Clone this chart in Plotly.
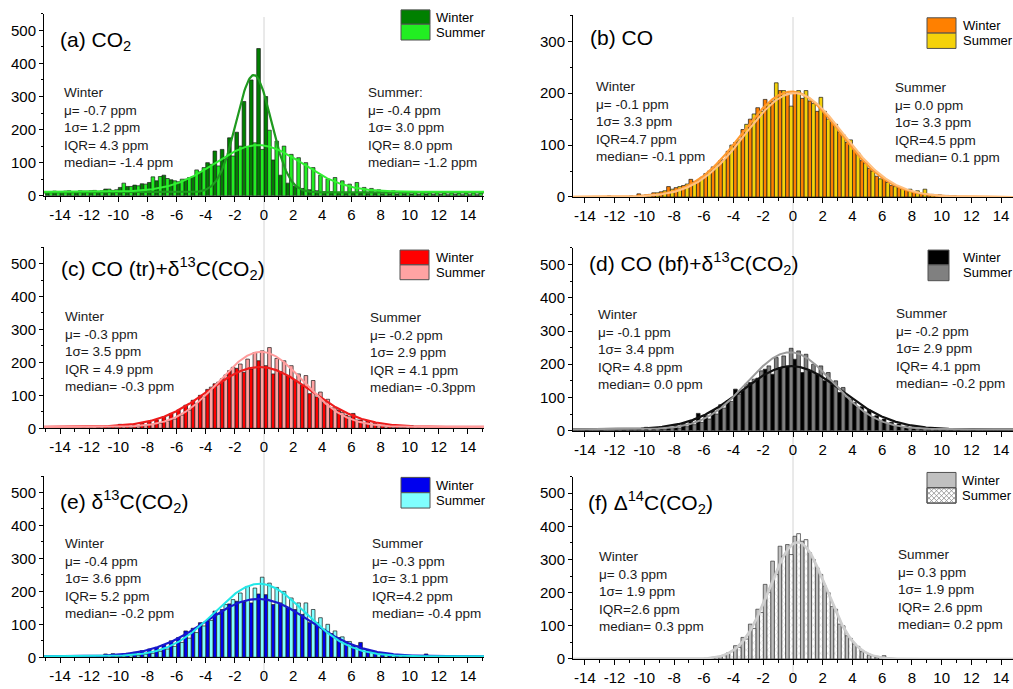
import numpy as np
import plotly.graph_objects as go

W, H = 1013, 689


def px(x):
    return x / W


def py(y):
    return 1 - y / H


# ---------------- data ----------------
bin_centers = [-14.75, -14.25, -13.75, -13.25, -12.75, -12.25, -11.75, -11.25, -10.75, -10.25,
               -9.75, -9.25, -8.75, -8.25, -7.75, -7.25, -6.75, -6.25, -5.75, -5.25,
               -4.75, -4.25, -3.75, -3.25, -2.75, -2.25, -1.75, -1.25, -0.75, -0.25,
               0.25, 0.75, 1.25, 1.75, 2.25, 2.75, 3.25, 3.75, 4.25, 4.75,
               5.25, 5.75, 6.25, 6.75, 7.25, 7.75, 8.25, 8.75, 9.25, 9.75,
               10.25, 10.75, 11.25, 11.75, 12.25, 12.75, 13.25, 13.75, 14.25, 14.75]

x_tick_vals = [-14, -12, -10, -8, -6, -4, -2, 0, 2, 4, 6, 8, 10, 12, 14]
x_tick_text = ["-14", "-12", "-10", "-8", "-6", "-4", "-2", "0", "2", "4", "6", "8", "10", "12", "14"]

co2_winter = [12, 14, 10, 15, 12, 14, 15, 13, 20, 16,
              25, 28, 32, 36, 40, 45, 62, 48, 42, 50,
              58, 72, 100, 135, 140, 175, 192, 285, 350, 445,
              300, 108, 62, 38, 28, 22, 18, 15, 12, 12,
              10, 10, 8, 8, 7, 8, 6, 6, 5, 6,
              5, 4, 5, 4, 4, 3, 4, 3, 3, 3]
co2_summer = [10, 12, 14, 12, 15, 14, 16, 15, 20, 18,
              38, 28, 30, 35, 57, 58, 52, 45, 50, 55,
              78, 85, 95, 90, 110, 120, 150, 148, 160, 140,
              198, 165, 150, 125, 115, 100, 85, 62, 50, 55,
              45, 35, 40, 25, 22, 18, 15, 15, 12, 10,
              12, 10, 9, 10, 8, 9, 8, 8, 9, 8]

co_winter = [0, 0, 0, 1, 0, 2, 1, 1, 2, 6,
             4, 8, 10, 20, 18, 22, 34, 32, 45, 58,
             70, 88, 105, 130, 150, 172, 188, 185, 205, 198,
             200, 190, 185, 165, 165, 145, 125, 105, 90, 70,
             55, 40, 35, 22, 18, 14, 10, 6, 4, 3,
             3, 2, 1, 1, 0, 0, 1, 0, 0, 0]
co_summer = [0, 0, 0, 0, 0, 1, 0, 1, 1, 3,
             5, 8, 12, 15, 20, 25, 30, 38, 50, 62,
             72, 100, 110, 140, 160, 165, 180, 220, 205, 175,
             205, 205, 180, 192, 150, 140, 120, 110, 85, 65,
             50, 35, 28, 20, 16, 15, 12, 15, 5, 4,
             3, 2, 1, 0, 0, 0, 0, 0, 0, 0]

tr_winter = [0, 0, 0, 0, 0, 1, 1, 2, 6, 8,
             12, 7, 10, 16, 20, 26, 35, 45, 55, 70,
             85, 100, 118, 135, 150, 175, 182, 170, 180, 205,
             190, 165, 172, 160, 145, 130, 105, 95, 80, 62,
             55, 40, 45, 25, 22, 15, 10, 8, 5, 3,
             8, 2, 1, 0, 1, 0, 0, 0, 0, 0]
tr_summer = [0, 0, 0, 0, 0, 0, 0, 1, 2, 2,
             4, 3, 5, 8, 12, 15, 22, 28, 40, 55,
             75, 95, 125, 140, 162, 185, 195, 210, 230, 235,
             245, 212, 205, 190, 165, 160, 145, 110, 88, 62,
             48, 35, 25, 18, 12, 8, 5, 3, 2, 1,
             1, 0, 0, 0, 0, 0, 0, 0, 0, 0]

bf_winter = [0, 0, 1, 0, 1, 0, 1, 2, 3, 4,
             10, 9, 12, 10, 15, 22, 28, 52, 45, 60,
             78, 90, 125, 122, 145, 158, 185, 170, 190, 195,
             215, 175, 180, 170, 150, 140, 115, 100, 85, 72,
             62, 45, 35, 25, 20, 14, 12, 6, 4, 3,
             2, 1, 1, 0, 4, 0, 0, 0, 0, 0]
bf_summer = [0, 0, 0, 0, 0, 0, 0, 0, 1, 1,
             2, 3, 4, 6, 8, 12, 18, 25, 35, 50,
             68, 88, 110, 140, 155, 180, 195, 220, 225, 248,
             240, 230, 200, 195, 175, 150, 130, 95, 70, 55,
             42, 30, 22, 15, 10, 7, 5, 3, 2, 1,
             1, 0, 0, 0, 0, 0, 0, 0, 0, 0]

d13_winter = [0, 0, 0, 1, 2, 2, 3, 4, 10, 11,
              8, 12, 15, 20, 25, 30, 38, 50, 60, 80,
              88, 105, 110, 140, 145, 162, 170, 168, 165, 192,
              190, 160, 165, 150, 145, 130, 105, 105, 85, 72,
              60, 48, 35, 45, 22, 16, 12, 9, 6, 4,
              3, 2, 10, 1, 1, 0, 0, 0, 0, 0]
d13_summer = [0, 0, 0, 0, 0, 0, 0, 1, 1, 2,
              3, 5, 6, 9, 12, 18, 25, 33, 45, 58,
              75, 95, 112, 130, 160, 175, 195, 215, 210, 243,
              225, 212, 200, 180, 165, 165, 145, 120, 100, 80,
              62, 48, 35, 25, 18, 12, 8, 5, 4, 2,
              1, 1, 0, 0, 0, 0, 0, 0, 0, 0]

c14_winter = [0, 0, 0, 0, 0, 0, 0, 0, 0, 0,
              0, 0, 0, 0, 0, 0, 0, 1, 2, 4,
              8, 18, 40, 65, 105, 150, 225, 295, 340, 345,
              370, 355, 320, 275, 220, 158, 105, 70, 45, 22,
              12, 5, 10, 1, 0, 0, 0, 0, 0, 0,
              0, 0, 0, 0, 0, 0, 0, 0, 0, 0]
c14_summer = [0, 0, 0, 0, 0, 0, 0, 0, 0, 0,
              0, 0, 0, 0, 0, 0, 0, 1, 2, 5,
              10, 22, 35, 60, 92, 140, 200, 255, 310, 315,
              378, 360, 300, 255, 200, 150, 100, 62, 38, 20,
              10, 5, 3, 1, 0, 0, 0, 0, 0, 0,
              0, 0, 0, 0, 0, 0, 0, 0, 0, 0]

# Gaussian fit parameters: [amplitude, centre, sigma, baseline]
fit_co2_winter = [355, -0.7, 1.2, 10]
fit_co2_summer = [141, -0.4, 3.0, 12]
fit_co_winter = [203, -0.1, 3.3, 0]
fit_co_summer = [200, 0.1, 3.3, 0]
fit_tr_winter = [182, -0.3, 3.5, 4]
fit_tr_summer = [228, -0.2, 2.9, 4]
fit_bf_winter = [190, -0.1, 3.4, 4]
fit_bf_summer = [232, -0.2, 2.9, 4]
fit_d13_winter = [174, -0.4, 3.6, 3]
fit_d13_summer = [220, -0.3, 3.1, 3]
fit_c14_winter = [352, 0.3, 1.9, 0]
fit_c14_summer = [352, 0.35, 1.9, 0]

stats_co2 = (["Winter", "μ= -0.7 ppm", "1σ= 1.2 ppm", "IQR= 4.3 ppm", "median= -1.4 ppm"],
             ["Summer:", "μ= -0.4 ppm", "1σ= 3.0 ppm", "IQR= 8.0 ppm", "median= -1.2 ppm"])
stats_co = (["Winter", "μ= -0.1 ppm", "1σ= 3.3 ppm", "IQR=4.7 ppm", "median= -0.1 ppm"],
            ["Summer", "μ= 0.0 ppm", "1σ= 3.3 ppm", "IQR=4.5 ppm", "median= 0.1 ppm"])
stats_tr = (["Winter", "μ= -0.3 ppm", "1σ= 3.5 ppm", "IQR = 4.9 ppm", "median= -0.3 ppm"],
            ["Summer", "μ= -0.2 ppm", "1σ= 2.9 ppm", "IQR = 4.1 ppm", "median= -0.3ppm"])
stats_bf = (["Winter", "μ= -0.1 ppm", "1σ= 3.4 ppm", "IQR= 4.8 ppm", "median= 0.0 ppm"],
            ["Summer", "μ= -0.2 ppm", "1σ= 2.9 ppm", "IQR= 4.1 ppm", "median= -0.2 ppm"])
stats_d13 = (["Winter", "μ= -0.4 ppm", "1σ= 3.6 ppm", "IQR= 5.2 ppm", "median= -0.2 ppm"],
             ["Summer", "μ= -0.3 ppm", "1σ= 3.1 ppm", "IQR=4.2 ppm", "median= -0.4 ppm"])
stats_c14 = (["Winter", "μ= 0.3 ppm", "1σ= 1.9 ppm", "IQR=2.6 ppm", "median= 0.3 ppm"],
             ["Summer", "μ= 0.3 ppm", "1σ= 1.9 ppm", "IQR= 2.6 ppm", "median= 0.2 ppm"])

titles = ["(a) CO<sub>2</sub>",
          "(b) CO",
          "(c) CO (tr)+δ<sup>13</sup>C(CO<sub>2</sub>)",
          "(d) CO (bf)+δ<sup>13</sup>C(CO<sub>2</sub>)",
          "(e) δ<sup>13</sup>C(CO<sub>2</sub>)",
          "(f) Δ<sup>14</sup>C(CO<sub>2</sub>)"]

# ---------------- styling / layout (pixel positions) ----------------
FONT = "Liberation Sans, Arial, sans-serif"
LEFT = (44, 484, [-15.1, 15.1])
RIGHT = (573, 1013, [-14.8, 14.8])

panels = [
    dict(w=co2_winter, s=co2_summer, fw=fit_co2_winter, fs=fit_co2_summer, stats=stats_co2,
         col=LEFT, ytop=14, ybot=198, yr=[0, 550],
         wc="#008000", sc="#22ee22", wl="#1f9a1f", sl="#33ee33", olc="#1a1a1a",
         title=(58, 41), wtxt=(62, 84), stxt=(366, 84), leg=(401, 430, 10, 24.5, 40.5, 434)),
    dict(w=co_winter, s=co_summer, fw=fit_co_winter, fs=fit_co_summer, stats=stats_co,
         col=RIGHT, ytop=15.5, ybot=199.3, yr=[0, 350],
         wc="#ff8000", sc="#f5d20a", wl="#ff9a30", sl="#ffc080", olc="#1a1a1a",
         title=(588, 38), wtxt=(594, 78), stxt=(893, 79), leg=(927, 956, 18, 33.5, 49, 961)),
    dict(w=tr_winter, s=tr_summer, fw=fit_tr_winter, fs=fit_tr_summer, stats=stats_tr,
         col=LEFT, ytop=250, ybot=433.3, yr=[0, 550],
         wc="#ff0000", sc="#ffa3a3", wl="#ee1c1c", sl="#ff9c9c", olc="#1a1a1a",
         title=(59, 272), wtxt=(62.7, 311), stxt=(367.7, 312), leg=(400, 429, 253, 268, 283, 434)),
    dict(w=bf_winter, s=bf_summer, fw=fit_bf_winter, fs=fit_bf_summer, stats=stats_bf,
         col=RIGHT, ytop=250.9, ybot=435.7, yr=[0, 550],
         wc="#000000", sc="#808080", wl="#111111", sl="#9a9a9a", olc="#1a1a1a",
         title=(587, 267), wtxt=(596, 309), stxt=(894, 308), leg=(928, 949, 253, 268, 284, 961)),
    dict(w=d13_winter, s=d13_summer, fw=fit_d13_winter, fs=fit_d13_summer, stats=stats_d13,
         col=LEFT, ytop=481.6, ybot=665, yr=[0, 550],
         wc="#0000ee", sc="#80ffff", wl="#1818cc", sl="#22e8e8", olc="#1a1a1a",
         title=(58, 507), wtxt=(63, 540), stxt=(370, 540), leg=(401, 430, 483, 498.5, 514, 434)),
    dict(w=c14_winter, s=c14_summer, fw=fit_c14_winter, fs=fit_c14_summer, stats=stats_c14,
         col=RIGHT, ytop=482.2, ybot=666.7, yr=[0, 550],
         wc="#c0c0c0", sc="#ffffff", wl="#c8c8c8", sl="#cfcfcf", olc="#333333",
         title=(586, 508), wtxt=(597, 553), stxt=(896, 551), leg=(927, 956, 478, 493.5, 509, 960)),
]


def gauss_curve(params, xs):
    a, mu, sig, base = params
    return base + a * np.exp(-(xs - mu) ** 2 / (2 * sig ** 2))


def hatch_path(x0, y0, x1, y1, step):
    segs = []
    for sgn in (1, -1):
        bs = [y - sgn * x for x in (x0, x1) for y in (y0, y1)]
        b = min(bs) + step / 2
        while b < max(bs):
            pts = []
            for x in (x0, x1):
                y = sgn * x + b
                if y0 - 1e-9 <= y <= y1 + 1e-9:
                    pts.append((x, y))
            for y in (y0, y1):
                x = (y - b) / sgn
                if x0 - 1e-9 <= x <= x1 + 1e-9:
                    pts.append((x, y))
            if len(pts) >= 2:
                pts.sort()
                (ax, ay), (bx, by) = pts[0], pts[-1]
                segs.append(f"M{px(ax):.5f},{py(ay):.5f} L{px(bx):.5f},{py(by):.5f}")
            b += step
    return " ".join(segs)


fig = go.Figure()
layout = dict(width=W, height=H, autosize=False, margin=dict(l=0, r=0, t=0, b=0),
              paper_bgcolor="white", plot_bgcolor="rgba(0,0,0,0)", barmode="overlay",
              showlegend=False, font=dict(family=FONT, color="black"), hovermode=False)
shapes, annotations = [], []
xs = np.linspace(-15.2, 15.2, 600)

for i, p in enumerate(panels, start=1):
    xn, yn = f"x{i}", f"y{i}"
    is_hatch = (i == 6)
    summer_marker = dict(color=p["sc"], line=dict(color=p["olc"], width=0.7))
    if is_hatch:
        summer_marker["pattern"] = dict(shape="x", fgcolor="#8a8a8a", bgcolor="white",
                                        size=5, solidity=0.15)
    fig.add_trace(go.Bar(x=bin_centers, y=p["w"], width=0.25, offset=-0.25,
                         marker=dict(color=p["wc"], line=dict(color=p["olc"], width=0.7)),
                         xaxis=xn, yaxis=yn, name="Winter"))
    fig.add_trace(go.Bar(x=bin_centers, y=p["s"], width=0.25, offset=0.0,
                         marker=summer_marker, xaxis=xn, yaxis=yn, name="Summer"))
    fig.add_trace(go.Scatter(x=xs, y=gauss_curve(p["fw"], xs), mode="lines",
                             line=dict(color=p["wl"], width=2.2), xaxis=xn, yaxis=yn,
                             hoverinfo="skip"))
    fig.add_trace(go.Scatter(x=xs, y=gauss_curve(p["fs"], xs), mode="lines",
                             line=dict(color=p["sl"], width=2.0), xaxis=xn, yaxis=yn,
                             hoverinfo="skip"))

    cx0, cx1, xr = p["col"]
    key = "" if i == 1 else str(i)
    layout["xaxis" + key] = dict(
        domain=[px(cx0), px(cx1)], range=xr, anchor=yn,
        tickmode="array", tickvals=x_tick_vals, ticktext=x_tick_text,
        ticks="outside", ticklen=5, tickwidth=1, tickcolor="black",
        minor=dict(ticks="outside", ticklen=3, tickmode="linear", tick0=-15, dtick=1,
                   tickcolor="black"),
        showline=True, linecolor="black", linewidth=1, showgrid=False, zeroline=False,
        tickfont=dict(size=15, color="black", family=FONT), fixedrange=True)
    layout["yaxis" + key] = dict(
        domain=[py(p["ybot"]), py(p["ytop"])], range=p["yr"], anchor=xn,
        tickmode="linear", tick0=0, dtick=100,
        ticks="outside", ticklen=4, tickwidth=1, tickcolor="black",
        minor=dict(ticks="outside", ticklen=2.5, tickmode="linear", tick0=0, dtick=50,
                   tickcolor="black"),
        showline=True, linecolor="black", linewidth=1, showgrid=False, zeroline=False,
        tickfont=dict(size=15, color="black", family=FONT), fixedrange=True)

    # title
    tx, ty = p["title"]
    annotations.append(dict(text=titles[i - 1], xref="paper", yref="paper",
                            x=px(tx), y=py(ty), xanchor="left", yanchor="middle",
                            showarrow=False, font=dict(size=21, family=FONT, color="black")))
    # stats blocks
    for (sx, sy), lines in ((p["wtxt"], p["stats"][0]), (p["stxt"], p["stats"][1])):
        annotations.append(dict(text="<br>".join(lines), xref="paper", yref="paper",
                                x=px(sx), y=py(sy), xanchor="left", yanchor="top", align="left",
                                showarrow=False,
                                font=dict(size=13.5, family=FONT, color="#1a1a1a")))
    # legend
    bx0, bx1, by0, bymid, by1, ltx = p["leg"]
    shapes.append(dict(type="rect", xref="paper", yref="paper", x0=px(bx0), x1=px(bx1),
                       y0=py(bymid), y1=py(by0), fillcolor=p["wc"],
                       line=dict(color="#505050", width=1), layer="above"))
    shapes.append(dict(type="rect", xref="paper", yref="paper", x0=px(bx0), x1=px(bx1),
                       y0=py(by1), y1=py(bymid), fillcolor=p["sc"],
                       line=dict(color="#505050", width=1), layer="above"))
    if is_hatch:
        shapes.append(dict(type="path", xref="paper", yref="paper",
                           path=hatch_path(bx0, bymid, bx1, by1, 5),
                           line=dict(color="#8a8a8a", width=0.8), layer="above"))
        shapes.append(dict(type="rect", xref="paper", yref="paper", x0=px(bx0), x1=px(bx1),
                           y0=py(by1), y1=py(bymid), fillcolor="rgba(0,0,0,0)",
                           line=dict(color="#505050", width=1), layer="above"))
    for txt, yc in (("Winter", (by0 + bymid) / 2), ("Summer", (bymid + by1) / 2)):
        annotations.append(dict(text=txt, xref="paper", yref="paper", x=px(ltx), y=py(yc),
                                xanchor="left", yanchor="middle", showarrow=False,
                                font=dict(size=13, family=FONT, color="black")))

# vertical reference line at zero in each column
for xr_ in ("x", "x2"):
    shapes.append(dict(type="line", xref=xr_, yref="paper", x0=0, x1=0, y0=0, y1=0.975,
                       line=dict(color="#d4d4d4", width=1), layer="below"))

layout["shapes"] = shapes
layout["annotations"] = annotations
fig.update_layout(**layout)
fig.write_html("out.html", config={"displayModeBar": False, "staticPlot": True},
               post_script="document.body.style.margin='0';"
                           "document.body.style.padding='0';"
                           "document.body.style.overflow='hidden';")
